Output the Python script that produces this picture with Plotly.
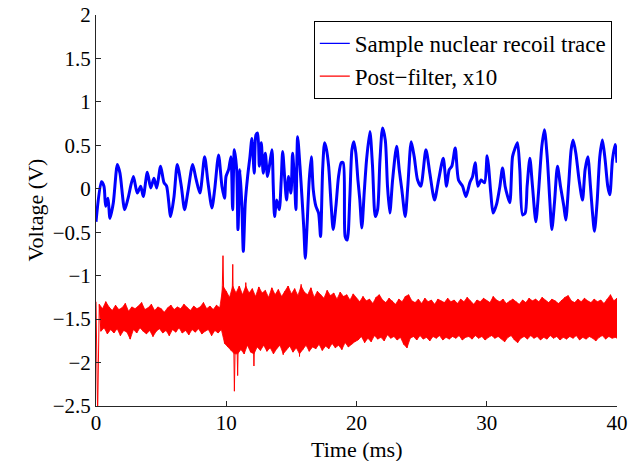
import numpy as np
import plotly.graph_objects as go

# ---- Blue trace: sample nuclear recoil trace ----
blue_t = [0.00, 0.41, 0.61, 0.74, 0.92, 1.07, 1.33, 1.64, 1.84, 2.20, 2.46, 2.87, 3.17, 3.43, 3.63,
          3.94, 4.20, 4.45, 4.66, 4.96, 5.22, 5.42, 5.73, 5.99, 6.24, 6.55, 6.80, 7.06, 7.42, 7.67,
          7.98, 8.34, 8.60, 8.90, 9.11, 9.41, 9.67, 9.87,
          9.98, 10.18, 10.36, 10.49, 10.62, 10.80, 10.90, 11.05, 11.20, 11.31, 11.46, 11.64, 11.82,
          11.97, 12.15, 12.28, 12.41, 12.54, 12.69, 12.84, 13.00, 13.17, 13.35, 13.51, 13.61, 13.71,
          13.87, 14.07, 14.22, 14.33, 14.48, 14.63, 14.79, 14.97, 15.09, 15.25, 15.35, 15.48, 15.66,
          15.81, 15.96, 16.07, 16.19, 16.37, 16.53, 16.68, 16.88, 17.09, 17.24, 17.40, 17.55, 17.70,
          17.86, 18.06, 18.21, 18.42, 18.62, 18.83, 18.98, 19.13, 19.29, 19.49, 19.65, 19.80, 19.95,
          20.11, 20.25, 20.41, 20.59, 20.77, 21.03, 21.23, 21.44, 21.62, 21.80, 22.00, 22.21, 22.38,
          22.56, 22.77, 23.08, 23.28, 23.48, 23.74, 23.94, 24.20, 24.43, 24.69, 24.94, 25.33, 25.63,
          25.99, 26.30, 26.66, 26.91, 27.12, 27.32, 27.58, 27.83, 28.14, 28.40, 28.70, 28.91, 29.11,
          29.32, 29.57, 29.83, 30.03, 30.14, 30.31, 30.49, 30.75, 31.01, 31.21, 31.41, 31.57, 31.77,
          31.98, 32.18, 32.36, 32.54, 32.75, 32.95, 33.10, 33.31, 33.51, 33.77, 33.97, 34.23, 34.43,
          34.64, 34.84, 35.00, 35.20, 35.43, 35.66, 35.92, 36.07, 36.28, 36.48, 36.63, 36.84, 37.09,
          37.35, 37.55, 37.76, 37.96, 38.12, 38.27, 38.47, 38.68, 38.88, 39.09, 39.29, 39.45, 39.65,
          39.86, 40.00]
blue_v = [-0.38, 0.08, 0.03, -0.20, -0.11, -0.34, -0.16, 0.28, 0.18, -0.24, -0.11, 0.14, -0.05, 0.03, -0.09,
          0.19, 0.01, 0.12, 0.01, 0.26, 0.07, 0.03, -0.32, -0.09, 0.28, 0.03, -0.24, -0.03, 0.28, 0.12,
          -0.05, 0.37, 0.07, -0.22, -0.01, 0.39, 0.03, -0.11,
          0.14, 0.22, 0.37, -0.24, 0.45, 0.22, -0.47, 0.22, -0.20, -0.72, -0.16, 0.14, 0.37,
          0.58, 0.18, 0.62, 0.64, 0.26, 0.53, 0.18, 0.41, 0.14, 0.30, 0.45, 0.03, -0.32,
          -0.13, -0.24, 0.10, 0.43, 0.14, -0.13, 0.14, -0.05, 0.41, 0.07, -0.24, 0.60, 0.26,
          -0.09, -0.47, -0.80, -0.47, 0.10, 0.37, -0.01, -0.20, -0.28, -0.55, 0.22, 0.53, 0.45,
          0.26, -0.20, -0.47, -0.20, 0.14, 0.30, 0.30, -0.55, -0.59, -0.09, 0.45, 0.54, 0.41,
          0.10, -0.12, -0.45, -0.05, 0.33, 0.66, 0.26, -0.32, -0.24, 0.33, 0.70, 0.56, 0.03,
          -0.28, 0.10, 0.49, 0.22, -0.01, -0.32, 0.03, 0.54, 0.37, 0.10, 0.03, 0.45, 0.18,
          -0.13, 0.10, 0.35, 0.03, 0.22, 0.26, 0.47, 0.10, 0.03, -0.09, 0.07, 0.14, 0.30,
          0.03, 0.10, 0.07, 0.38, 0.26, -0.05, -0.28, -0.18, 0.03, 0.24, 0.03, -0.07, -0.16,
          0.37, 0.47, 0.53, 0.22, -0.30, -0.28, 0.03, 0.35, 0.03, -0.38, -0.05, 0.49, 0.68,
          0.37, -0.13, -0.47, -0.16, 0.26, 0.03, -0.20, -0.36, 0.03, 0.45, 0.56, 0.41, 0.10,
          -0.13, 0.22, 0.37, 0.03, -0.28, -0.49, -0.16, 0.37, 0.56, 0.33, 0.03, -0.07, 0.33,
          0.51, 0.30]

# ---- Red trace: post-filter x10, read as upper/lower extremes per 0.25 ms ----
red_step = 0.25
red_upper = [-1.30,
             -1.33, -1.38, -1.30, -1.36, -1.40, -1.34, -1.39, -1.37, -1.32, -1.41, -1.36, -1.38, -1.35,
             -1.31, -1.39, -1.37, -1.33, -1.40, -1.36, -1.38, -1.42, -1.37, -1.34, -1.39, -1.36, -1.38,
             -1.33, -1.37, -1.40, -1.35, -1.38, -1.36, -1.31, -1.38, -1.35, -1.39, -1.34, -1.37,
             -0.77, -1.18, -1.25, -0.87, -1.20, -1.12, -1.22, -1.08, -1.20, -1.15, -1.24, -1.13, -1.20,
             -1.17, -1.25, -1.14, -1.22, -1.16, -1.24, -1.18, -1.12, -1.21, -1.15, -1.23, -1.10, -1.19,
             -1.22, -1.14, -1.25, -1.18, -1.22, -1.26, -1.17, -1.23, -1.20, -1.27, -1.19, -1.24, -1.22,
             -1.28, -1.21,
             -1.26, -1.30, -1.24, -1.29, -1.27, -1.32, -1.25, -1.22, -1.28, -1.31, -1.26, -1.29, -1.33,
             -1.27, -1.30, -1.24, -1.22, -1.29, -1.31, -1.27, -1.32, -1.26, -1.30, -1.28, -1.33, -1.27,
             -1.29, -1.31, -1.26, -1.30, -1.28, -1.32, -1.27, -1.30, -1.25, -1.29, -1.33, -1.28, -1.30,
             -1.26, -1.29, -1.31, -1.24, -1.28, -1.30, -1.27, -1.32, -1.29, -1.27, -1.30, -1.33, -1.28,
             -1.31, -1.26, -1.29, -1.27, -1.30, -1.25, -1.28, -1.31, -1.27, -1.29, -1.32, -1.28, -1.25,
             -1.23, -1.29, -1.31, -1.27, -1.30, -1.26, -1.29, -1.31, -1.27, -1.30, -1.28, -1.32, -1.27,
             -1.22, -1.29, -1.26]
red_lower = [-2.60,
             -1.64, -1.60, -1.67, -1.62, -1.66, -1.61, -1.69, -1.63, -1.65, -1.73, -1.62, -1.66, -1.60,
             -1.64, -1.67, -1.63, -1.70, -1.64, -1.61, -1.66, -1.63, -1.69, -1.62, -1.65, -1.60, -1.66,
             -1.63, -1.68, -1.62, -1.65, -1.61, -1.67, -1.64, -1.62, -1.69, -1.63, -1.66, -1.62,
             -1.78, -1.82, -1.86, -2.33, -2.15, -1.85, -1.90, -1.80, -1.88, -2.04, -1.82, -1.86, -1.80,
             -1.87, -1.83, -1.90, -1.84, -1.80, -1.91, -1.85, -1.81, -1.88, -1.83, -1.93, -1.85, -1.80,
             -1.87, -1.82, -1.84, -1.79, -1.86, -1.81, -1.84, -1.78, -1.83, -1.80, -1.85, -1.77, -1.82,
             -1.79, -1.76,
             -1.74, -1.70, -1.77, -1.72, -1.76, -1.69, -1.73, -1.71, -1.75, -1.68, -1.72, -1.70, -1.74,
             -1.71, -1.79, -1.83, -1.72, -1.70, -1.74, -1.69, -1.73, -1.71, -1.75, -1.70, -1.72, -1.69,
             -1.74, -1.71, -1.73, -1.70, -1.72, -1.69, -1.74, -1.71, -1.70, -1.73, -1.69, -1.72, -1.70,
             -1.74, -1.71, -1.69, -1.72, -1.70, -1.73, -1.76, -1.71, -1.69, -1.74, -1.77, -1.72, -1.70,
             -1.73, -1.69, -1.72, -1.70, -1.74, -1.71, -1.73, -1.69, -1.72, -1.70, -1.74, -1.71, -1.73,
             -1.70, -1.72, -1.69, -1.74, -1.71, -1.73, -1.70, -1.72, -1.75, -1.71, -1.69, -1.73, -1.70,
             -1.72, -1.71, -1.73]

x_ticks = [0, 10, 20, 30, 40]
y_ticks = [-2.5, -2, -1.5, -1, -0.5, 0, 0.5, 1, 1.5, 2]
y_labels = ["\u22122.5", "\u22122", "\u22121.5", "\u22121", "\u22120.5", "0", "0.5", "1", "1.5", "2"]

red_t = np.arange(len(red_upper)) * red_step
red_x, red_y = [], []
for t, u, l in zip(red_t, red_upper, red_lower):
    red_x += [t, t + red_step / 2]
    red_y += [u, l]

# dense core of the red band (spikes are left to the line trace)
core_up = np.clip(np.array(red_upper[1:]), -1.9, -1.12)
core_lo = np.clip(np.array(red_lower[1:]), -1.9, -1.12)
core_t = red_t[1:]
core_x = list(core_t) + list((core_t + red_step / 2)[::-1])
core_y = list(core_up) + list(core_lo[::-1])

FONT = "Liberation Serif"
BLUE = "rgb(0,0,255)"
RED = "rgb(255,0,0)"

fig = go.Figure()
fig.add_trace(go.Scatter(x=blue_t, y=blue_v, mode="lines", name="Sample nuclear recoil trace",
                         legendgroup="b", showlegend=False,
                         line=dict(color=BLUE, width=3, shape="spline", smoothing=0.7)))
fig.add_trace(go.Scatter(x=core_x, y=core_y, mode="lines", fill="toself", fillcolor=RED,
                         legendgroup="r", line=dict(color=RED, width=0.8), showlegend=False,
                         hoverinfo="skip"))
fig.add_trace(go.Scatter(x=red_x, y=red_y, mode="lines", name="Post\u2212filter, x10",
                         legendgroup="r", showlegend=False, line=dict(color=RED, width=1.0)))
# legend entries (thin sample lines as in the reference)
fig.add_trace(go.Scatter(x=[None], y=[None], mode="lines", name="Sample nuclear recoil trace",
                         legendgroup="b", line=dict(color=BLUE, width=1.2)))
fig.add_trace(go.Scatter(x=[None], y=[None], mode="lines", name="Post\u2212filter, x10",
                         legendgroup="r", line=dict(color=RED, width=1.2)))

axis_common = dict(showline=True, linecolor="#262626", linewidth=1, ticks="inside", ticklen=5,
                   tickcolor="#262626", showgrid=False, zeroline=False, mirror=False,
                   tickfont=dict(family=FONT, size=21, color="black"), automargin=False)
fig.update_xaxes(range=[0, 40], tickvals=x_ticks, ticktext=[str(v) for v in x_ticks],
                 ticklabelstandoff=-2, **axis_common)
fig.update_yaxes(range=[-2.5, 2], tickvals=y_ticks, ticktext=y_labels, **axis_common)

fig.update_layout(
    width=638, height=461,
    margin=dict(l=96, r=21, t=15, b=55),
    paper_bgcolor="white", plot_bgcolor="white",
    font=dict(family=FONT, size=21, color="black"),
    showlegend=True,
    legend=dict(x=0.99, y=0.985, xanchor="right", yanchor="top", bordercolor="black", borderwidth=1,
                bgcolor="white", font=dict(family=FONT, size=23, color="black"), tracegroupgap=0,
                itemwidth=30),
    annotations=[
        dict(text="Time (ms)", xref="paper", yref="paper", x=0.5, y=0.0, yshift=-43,
             xanchor="center", yanchor="middle", showarrow=False,
             font=dict(family=FONT, size=22, color="black")),
        dict(text="Voltage (V)", xref="paper", yref="paper", x=0, xshift=-61, y=0.5,
             xanchor="center", yanchor="middle", textangle=-90, showarrow=False,
             font=dict(family=FONT, size=22, color="black")),
    ],
)

fig.write_html("out.html")
